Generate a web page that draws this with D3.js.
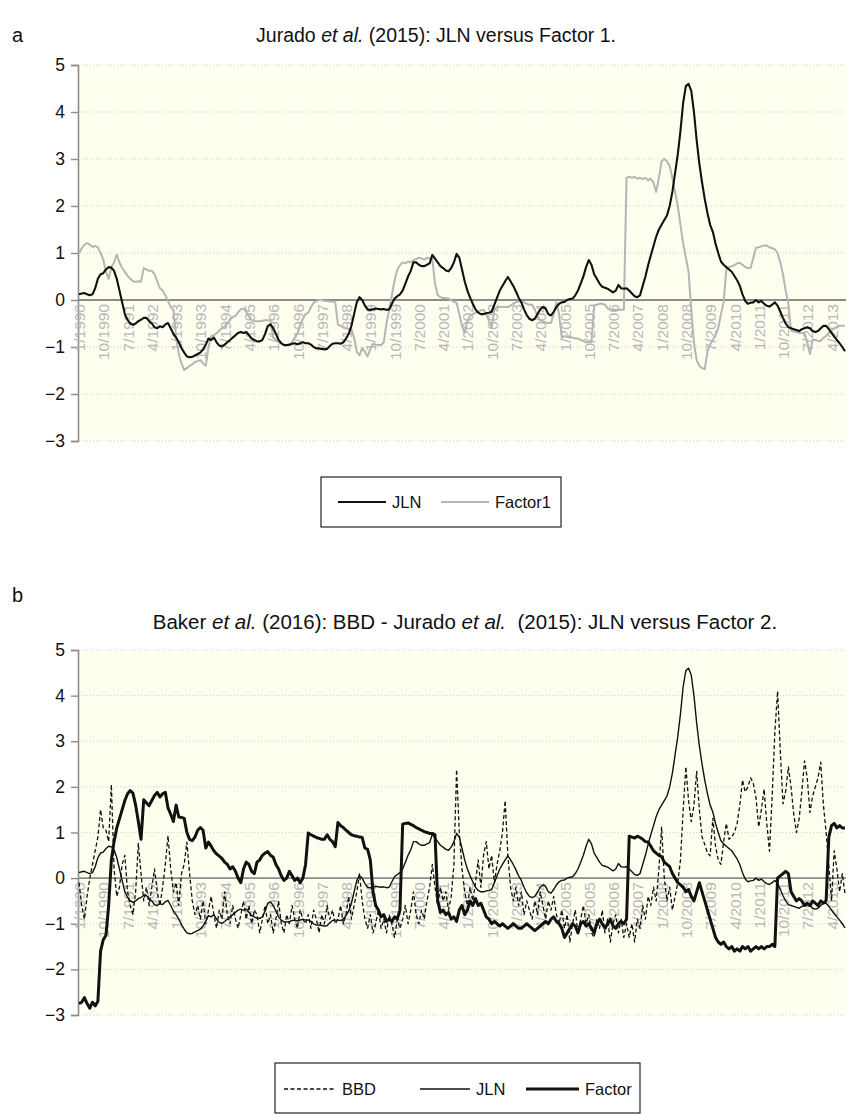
<!DOCTYPE html>
<html><head><meta charset="utf-8">
<script src="https://cdn.jsdelivr.net/npm/d3@7"></script>
<style>
html,body{margin:0;padding:0;background:#fff;}
svg{display:block;font-family:"Liberation Sans",Arial,Helvetica,sans-serif;}
</style></head>
<body><svg id="c" width="857" height="1115"></svg>
<script>
// ---- data (monthly, 1/1990 .. 9/2013) ----
const jln = [
 0.12,0.14,0.15,0.12,0.10,0.12,0.25,0.45,0.55,0.57,0.65,0.70,
 0.69,0.62,0.45,0.20,-0.05,-0.30,-0.42,-0.50,-0.53,-0.50,-0.45,-0.42,
 -0.38,-0.38,-0.45,-0.50,-0.58,-0.60,-0.56,-0.58,-0.52,-0.49,-0.60,-0.72,
 -0.80,-0.90,-1.02,-1.12,-1.20,-1.22,-1.21,-1.18,-1.15,-1.12,-1.05,-0.95,
 -0.82,-0.85,-0.80,-0.90,-0.97,-0.99,-0.95,-0.90,-0.85,-0.80,-0.75,-0.70,
 -0.68,-0.70,-0.68,-0.75,-0.82,-0.85,-0.88,-0.88,-0.85,-0.72,-0.55,-0.52,
 -0.60,-0.72,-0.85,-0.92,-0.96,-0.96,-0.95,-0.93,-0.92,-0.94,-0.92,-0.90,
 -0.92,-0.92,-0.95,-1.00,-1.03,-1.03,-1.04,-1.05,-1.04,-0.98,-0.93,-0.92,
 -0.92,-0.93,-0.90,-0.82,-0.72,-0.55,-0.30,-0.05,0.06,0.00,-0.12,-0.20,
 -0.21,-0.20,-0.18,-0.19,-0.20,-0.19,-0.21,-0.20,-0.08,0.03,0.08,0.12,
 0.20,0.35,0.50,0.62,0.80,0.80,0.75,0.72,0.72,0.75,0.78,0.96,
 0.88,0.80,0.72,0.68,0.63,0.61,0.68,0.80,0.98,0.90,0.65,0.40,
 0.20,0.05,-0.08,-0.20,-0.27,-0.30,-0.30,-0.28,-0.27,-0.25,-0.10,0.05,
 0.20,0.30,0.40,0.49,0.40,0.30,0.18,0.05,-0.05,-0.20,-0.32,-0.40,
 -0.43,-0.40,-0.30,-0.20,-0.15,-0.18,-0.30,-0.33,-0.25,-0.15,-0.08,-0.05,
 -0.04,0.00,0.02,0.03,0.10,0.20,0.35,0.50,0.70,0.85,0.75,0.55,
 0.45,0.35,0.28,0.26,0.24,0.20,0.16,0.20,0.32,0.25,0.24,0.25,
 0.20,0.14,0.08,0.06,0.10,0.30,0.50,0.74,0.95,1.15,1.35,1.50,
 1.60,1.70,1.80,2.00,2.30,2.70,3.10,3.60,4.20,4.55,4.60,4.45,
 4.00,3.40,2.90,2.50,2.15,1.85,1.60,1.45,1.20,1.00,0.82,0.75,
 0.70,0.65,0.60,0.51,0.42,0.30,0.12,-0.02,-0.08,-0.06,-0.05,0.00,
 -0.05,-0.02,-0.08,-0.12,-0.14,-0.10,-0.05,-0.12,-0.25,-0.38,-0.50,-0.58,
 -0.60,-0.62,-0.64,-0.66,-0.62,-0.60,-0.58,-0.60,-0.66,-0.68,-0.66,-0.60,
 -0.55,-0.55,-0.62,-0.70,-0.78,-0.85,-0.92,-1.00,-1.09
];
const factor1 = [
 0.99,1.10,1.18,1.21,1.18,1.13,1.15,1.12,1.00,0.86,0.60,0.45,
 0.70,0.80,0.96,0.80,0.68,0.60,0.52,0.45,0.40,0.39,0.40,0.39,
 0.68,0.65,0.62,0.62,0.55,0.40,0.25,0.20,0.10,-0.02,-0.15,-0.21,
 -0.80,-1.15,-1.35,-1.49,-1.45,-1.40,-1.37,-1.32,-1.30,-1.28,-1.35,-1.40,
 -1.00,-0.77,-0.75,-0.71,-0.65,-0.60,-0.56,-0.50,-0.42,-0.36,-0.34,-0.26,
 -0.20,-0.18,-0.25,-0.35,-0.43,-0.45,-0.45,-0.45,-0.44,-0.43,-0.43,-0.43,
 -0.80,-0.84,-0.90,-0.93,-0.95,-0.96,-0.96,-0.90,-0.80,-0.71,-0.55,-0.40,
 -0.30,-0.27,-0.15,-0.06,-0.02,0.00,0.00,-0.02,-0.02,-0.03,-0.03,-0.05,
 -0.52,-0.55,-0.58,-0.60,-0.62,-0.62,-0.80,-1.10,-1.18,-1.02,-1.10,-1.20,
 -1.05,-0.93,-0.95,-0.96,-0.96,-0.90,-0.50,-0.21,0.10,0.42,0.65,0.74,
 0.80,0.78,0.82,0.80,0.85,0.87,0.90,0.88,0.86,0.90,0.88,0.87,
 0.34,0.10,0.06,0.04,0.04,0.03,0.00,-0.04,-0.06,-0.30,-0.55,-0.70,
 -0.45,-0.34,-0.30,-0.27,-0.25,-0.22,-0.21,-0.30,-0.45,-0.58,-0.20,-0.15,
 -0.15,-0.15,-0.15,-0.15,-0.12,-0.08,-0.05,-0.03,-0.03,-0.05,-0.08,-0.10,
 -0.10,-0.20,-0.35,-0.43,-0.45,-0.48,-0.49,-0.49,-0.30,-0.05,-0.30,-0.80,
 -0.77,-0.78,-0.80,-0.80,-0.82,-0.82,-0.85,-0.87,-0.90,-0.90,-0.90,-0.11,
 -0.10,-0.08,-0.08,-0.10,-0.18,-0.21,-0.21,-0.21,-0.20,-0.21,-0.21,2.60,
 2.62,2.60,2.62,2.58,2.60,2.57,2.60,2.55,2.58,2.50,2.30,2.60,
 2.95,3.00,2.95,2.85,2.60,2.30,2.00,1.60,1.20,0.90,0.60,-0.20,
 -0.90,-1.28,-1.40,-1.45,-1.47,-1.10,-0.95,-0.85,-0.75,-0.60,-0.30,-0.05,
 0.65,0.70,0.72,0.74,0.78,0.79,0.75,0.70,0.68,0.68,0.90,1.11,
 1.12,1.14,1.16,1.16,1.12,1.10,1.08,1.00,0.80,0.55,0.20,-0.08,
 -0.65,-0.67,-0.68,-0.70,-0.70,-0.71,-0.90,-1.15,-0.84,-0.85,-0.87,-0.87,
 -0.80,-0.77,-0.70,-0.65,-0.60,-0.58,-0.55,-0.55,-0.55
];
const bbd = [
 -0.10,-0.60,-0.90,-0.40,0.00,0.30,0.60,0.90,1.50,1.10,1.05,0.80,
 2.05,0.20,-0.40,-0.20,0.30,0.50,-0.30,-0.60,-0.80,-0.30,0.76,0.10,
 -0.50,-0.20,-0.60,-0.20,0.20,-0.30,-0.60,-0.20,0.30,0.93,0.20,-0.30,
 -0.10,-0.60,0.10,0.30,0.79,0.10,-0.50,-0.80,-0.60,-0.90,-0.50,-1.00,
 -0.70,-0.40,-0.80,-1.10,-0.70,-0.90,-0.30,-0.80,-1.00,-0.60,-0.90,-1.10,
 -0.80,-0.50,-0.90,-0.60,-1.00,-0.70,-0.80,-1.20,-0.90,-0.60,-1.00,-0.80,
 -1.20,-0.90,-0.50,-1.00,-1.20,-0.80,-1.00,-0.60,-0.90,-1.10,-0.70,-0.90,
 -1.00,-0.80,-1.10,-0.70,-0.90,-1.20,-0.80,-1.00,-0.60,-0.90,-0.70,-1.00,
 -0.90,-0.60,-1.00,-0.80,-0.40,-0.90,-0.60,-0.30,0.10,-0.50,-0.90,-1.10,
 -0.80,-1.20,-1.00,-0.70,-1.10,-0.90,-1.20,-0.80,-1.00,-1.30,-0.90,-1.10,
 -0.90,-0.60,-1.00,-0.70,-0.30,-0.80,-1.00,-0.70,-0.90,-0.50,-0.20,0.30,
 -0.20,-0.60,-0.20,-0.50,-0.30,-0.70,-0.40,0.30,2.38,1.00,0.20,-0.30,
 -0.60,-0.20,-0.50,-0.10,0.40,-0.20,0.50,0.80,0.20,0.50,-0.10,0.30,
 0.60,1.00,1.70,0.50,-0.20,-0.50,-0.20,-0.60,-0.30,-0.80,-0.50,-0.70,
 -0.90,-0.50,-0.80,-0.30,-0.60,-0.90,-0.50,-0.70,-0.40,-0.80,-1.00,-0.70,
 -1.10,-0.80,-1.40,-1.00,-0.70,-1.20,-0.90,-0.60,-1.00,-0.80,-1.20,-1.30,
 -0.90,-1.10,-0.70,-1.20,-0.90,-1.40,-1.00,-0.80,-1.20,-0.90,-1.30,-1.00,
 -1.30,-1.00,-1.40,-0.90,-1.10,-0.60,-0.90,-0.40,-0.60,-0.20,-0.50,0.20,
 1.12,0.00,-0.50,-0.20,-0.70,-0.40,-0.10,0.40,1.50,2.44,1.70,1.24,
 1.60,2.34,1.50,0.90,0.74,0.55,0.49,1.31,0.70,0.40,0.30,0.80,
 1.20,0.85,0.90,1.00,1.20,1.60,2.15,1.89,2.00,2.20,2.08,1.76,
 1.12,1.50,1.95,1.20,0.59,1.80,3.20,4.10,2.80,1.63,1.90,2.44,
 2.00,1.40,1.00,1.30,1.90,2.57,2.20,1.44,1.80,2.00,2.20,2.54,
 1.60,1.00,0.30,-0.50,0.60,0.20,-0.30,0.10,-0.35
];
const factor2 = [
 -2.75,-2.72,-2.62,-2.75,-2.85,-2.72,-2.80,-2.70,-1.60,-1.35,-1.25,-0.60,
 0.40,0.80,1.10,1.30,1.50,1.70,1.85,1.92,1.86,1.60,1.24,0.85,
 1.72,1.65,1.59,1.70,1.81,1.88,1.78,1.85,1.88,1.54,1.40,1.24,
 1.60,1.34,1.33,1.31,1.00,0.85,0.82,0.90,1.05,1.11,1.05,0.66,
 0.79,0.70,0.60,0.53,0.48,0.43,0.35,0.30,0.20,0.25,0.15,0.00,
 -0.10,0.20,0.35,0.30,0.15,0.10,0.35,0.40,0.50,0.55,0.58,0.50,
 0.46,0.30,0.20,0.05,-0.05,0.00,0.15,0.05,-0.05,0.00,-0.10,0.00,
 0.30,0.99,0.95,0.92,0.89,0.87,0.85,0.85,0.95,0.85,0.80,0.69,
 1.22,1.15,1.11,1.05,1.00,0.95,0.93,0.92,0.90,0.89,0.66,0.63,
 0.40,-0.30,-0.60,-0.70,-0.85,-0.80,-0.95,-0.90,-0.95,-0.85,-0.90,-0.70,
 1.18,1.20,1.21,1.18,1.15,1.11,1.08,1.05,1.02,1.00,0.98,0.98,
 0.95,-0.50,-0.75,-0.70,-0.80,-0.75,-0.90,-0.85,-0.95,-0.70,-0.60,-0.80,
 -0.70,-0.50,-0.60,-0.45,-0.60,-0.55,-0.70,-0.85,-0.90,-1.00,-0.95,-1.00,
 -1.05,-1.00,-1.05,-1.10,-1.05,-1.00,-1.05,-1.10,-1.10,-1.05,-1.00,-1.05,
 -1.10,-1.15,-1.10,-1.05,-1.00,-0.95,-1.00,-0.90,-0.85,-0.95,-1.00,-1.10,
 -1.30,-1.20,-1.10,-1.00,-1.05,-1.20,-1.00,-0.95,-1.05,-1.00,-1.10,-1.20,
 -1.00,-0.90,-1.00,-1.10,-1.00,-0.90,-1.05,-1.10,-1.00,-0.95,-1.00,-0.90,
 0.92,0.90,0.88,0.92,0.89,0.85,0.80,0.79,0.70,0.60,0.55,0.50,
 0.47,0.35,0.30,0.25,0.10,0.00,-0.10,-0.15,-0.20,-0.30,-0.25,-0.40,
 -0.50,-0.30,-0.10,-0.30,-0.50,-0.70,-0.90,-1.10,-1.30,-1.40,-1.45,-1.40,
 -1.50,-1.55,-1.50,-1.60,-1.55,-1.60,-1.50,-1.55,-1.50,-1.60,-1.55,-1.50,
 -1.55,-1.50,-1.55,-1.50,-1.50,-1.45,-1.50,0.00,0.05,0.10,0.15,0.10,
 -0.30,-0.40,-0.50,-0.45,-0.50,-0.60,-0.55,-0.60,-0.50,-0.55,-0.60,-0.50,
 -0.55,-0.50,0.90,1.15,1.20,1.10,1.15,1.10,1.10
];
const tickLabels = ["1/1990","10/1990","7/1991","4/1992","1/1993","10/1993","7/1994","4/1995",
 "1/1996","10/1996","7/1997","4/1998","1/1999","10/1999","7/2000","4/2001","1/2002","10/2002",
 "7/2003","4/2004","1/2005","10/2005","7/2006","4/2007","1/2008","10/2008","7/2009","4/2010",
 "1/2011","10/2011","7/2012","4/2013"];
const yTicks = [-3,-2,-1,0,1,2,3,4,5];
const nMonths = 285; // 1/1990 .. 9/2013

const months = [];
for (let i = 0; i < nMonths; i++) months.push((i % 12 + 1) + "/" + (1990 + Math.floor(i / 12)));

const svg = d3.select("#c");
const FONT = '"Liberation Sans",Arial,Helvetica,sans-serif';

function panel(cfg) {
  const x = d3.scalePoint().domain(months).range([cfg.x0 + 1, cfg.right - 1]);
  const y = d3.scaleLinear().domain([-3, 5]).range([cfg.yBot, cfg.yTop]);
  const g = svg.append("g");
  const right = cfg.right;
  g.append("rect").attr("x", cfg.x0).attr("y", y(5)).attr("width", right - cfg.x0)
    .attr("height", y(-3) - y(5)).attr("fill", "#fffff0");
  g.selectAll(".grid").data(yTicks.filter(d => d !== 0)).join("line")
    .attr("x1", cfg.x0).attr("x2", right).attr("y1", d => y(d)).attr("y2", d => y(d))
    .attr("stroke", "#cfcfc8").attr("stroke-width", 1).attr("stroke-dasharray", "1,2");
  const ya = g.append("g").attr("transform", `translate(${cfg.x0},0)`)
    .call(d3.axisLeft(y).tickValues(yTicks).tickSize(7).tickPadding(6)
      .tickFormat(d => d < 0 ? "\u2212" + Math.abs(d) : d));
  ya.select(".domain").attr("stroke", "#8c8c8c").attr("stroke-width", 1.6);
  ya.selectAll(".tick line").attr("stroke", "#8c8c8c").attr("stroke-width", 1.4);
  ya.selectAll("text").attr("font-size", 17.5).attr("font-family", FONT).attr("fill", "#111");
  const xa = g.append("g").attr("transform", `translate(0,${y(0)})`)
    .call(d3.axisBottom(x).tickValues(tickLabels).tickSize(0).tickPadding(0));
  xa.select(".domain").remove();
  xa.selectAll("text").attr("font-size", 15.5).attr("font-family", FONT).attr("fill", "#b8b8b8")
    .attr("text-anchor", "end").attr("transform", "rotate(-90)")
    .attr("x", -4).attr("y", 0).attr("dy", "0.36em");
  g.append("line").attr("x1", cfg.x0).attr("x2", right).attr("y1", y(0)).attr("y2", y(0))
    .attr("stroke", "#8c8c8c").attr("stroke-width", 1.8);
  const line = d3.line().x((d, i) => x(months[i])).y(d => y(d));
  cfg.series.forEach(s => {
    g.append("path").datum(s.data).attr("d", line).attr("fill", "none")
      .attr("stroke", s.color).attr("stroke-width", s.width)
      .attr("stroke-dasharray", s.dash || null).attr("stroke-linejoin", "round");
  });
  svg.append("text").attr("x", 12).attr("y", cfg.letterY).attr("font-size", 20)
    .attr("font-family", FONT).attr("fill", "#111").text(cfg.letter);
  const t = svg.append("text").attr("x", cfg.titleX).attr("y", cfg.titleY).attr("font-size", cfg.titleSize)
    .attr("font-family", FONT).attr("text-anchor", "middle").attr("fill", "#111");
  cfg.title.forEach(p => t.append("tspan").attr("font-style", p.i ? "italic" : null)
    .attr("xml:space", "preserve").text(p.t));
  const L = cfg.legend;
  svg.append("rect").attr("x", L.x).attr("y", L.y).attr("width", L.w).attr("height", L.h)
    .attr("fill", "#fff").attr("stroke", "#222").attr("stroke-width", 1.2);
  L.items.forEach(it => {
    svg.append("line").attr("x1", it.lx).attr("x2", it.lx + it.len).attr("y1", L.ly).attr("y2", L.ly)
      .attr("stroke", it.color).attr("stroke-width", it.width).attr("stroke-dasharray", it.dash || null);
    svg.append("text").attr("x", it.lx + it.len + 6).attr("y", L.ty).attr("font-size", 16.5)
      .attr("font-family", FONT).attr("fill", "#111").text(it.name);
  });
}

panel({
  x0: 78, right: 846, yTop: 65, yBot: 441, letter: "a", letterY: 42, titleX: 436, titleY: 42, titleSize: 19.5,
  title: [{t: "Jurado "}, {t: "et al.", i: true}, {t: " (2015): JLN versus Factor 1."}],
  series: [
    {data: factor1, color: "#b5b5b5", width: 2},
    {data: jln, color: "#111", width: 2.1}
  ],
  legend: {x: 321, y: 477, w: 240, h: 50, ly: 502, ty: 508, items: [
    {name: "JLN", lx: 338, len: 48, color: "#111", width: 2},
    {name: "Factor1", lx: 441, len: 48, color: "#b5b5b5", width: 2}
  ]}
});

panel({
  x0: 78, right: 846, yTop: 650, yBot: 1015, letter: "b", letterY: 602, titleX: 465, titleY: 629, titleSize: 20.5,
  title: [{t: "Baker "}, {t: "et al.", i: true}, {t: " (2016): BBD - Jurado "}, {t: "et al.", i: true},
          {t: "  (2015): JLN versus Factor 2."}],
  series: [
    {data: bbd, color: "#111", width: 1.3, dash: "4,2.5"},
    {data: jln, color: "#111", width: 1.4},
    {data: factor2, color: "#111", width: 3}
  ],
  legend: {x: 275, y: 1063, w: 365, h: 50, ly: 1089, ty: 1095, items: [
    {name: "BBD", lx: 284, len: 52, color: "#111", width: 1.3, dash: "4,2.5"},
    {name: "JLN", lx: 420, len: 50, color: "#111", width: 1.4},
    {name: "Factor", lx: 526, len: 53, color: "#111", width: 3}
  ]}
});
</script></body></html>
